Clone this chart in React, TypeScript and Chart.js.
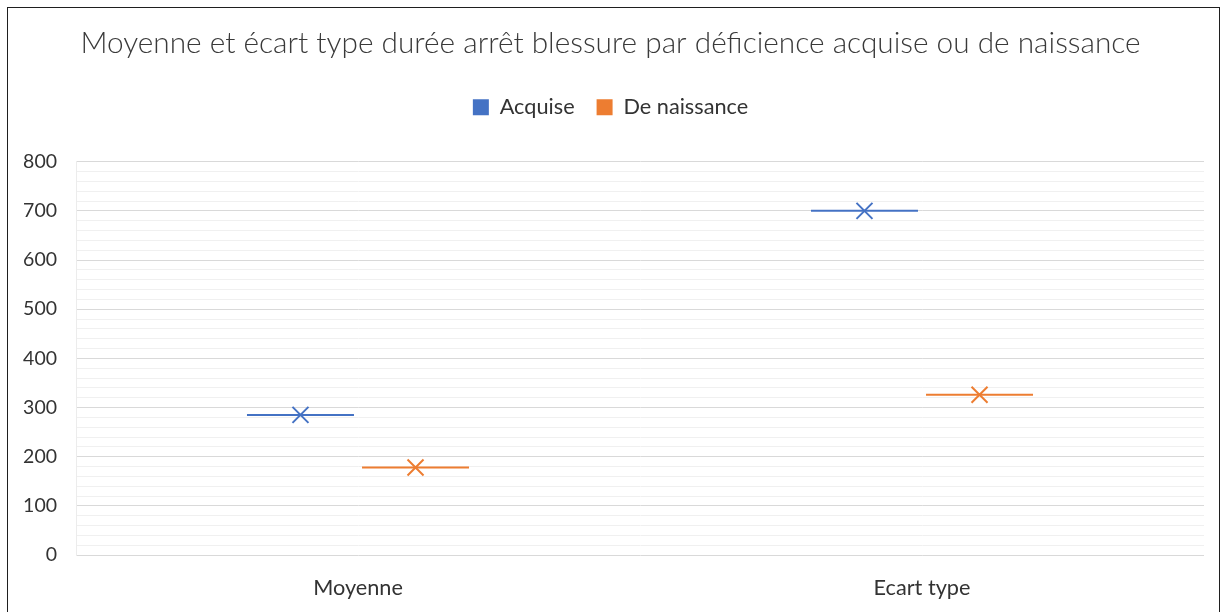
import React, { useEffect, useRef } from 'react';
import { Chart, registerables } from 'chart.js';

Chart.register(...registerables);

// ---- Data ----
const categories: string[] = ['Moyenne', 'Ecart type'];
const seriesNames: string[] = ['Acquise', 'De naissance'];
const acquiseValues: number[] = [285, 700];
const naissanceValues: number[] = [178, 326];
const seriesColors: string[] = ['#4472C4', '#ED7D31'];
const yMin = 0;
const yMax = 800;
const yMajorStep = 100;
const yMinorStep = 20;
const titleText = 'Moyenne et écart type durée arrêt blessure par déficience acquise ou de naissance';

const FONT = 'Lato, "Open Sans", sans-serif';

const markerPlugin = {
  id: 'meanMarkers',
  beforeDatasetDraw() {
    return false; // bars themselves are not drawn; markers below
  },
  afterDatasetsDraw(chart: any) {
    const ctx = chart.ctx;
    chart.data.datasets.forEach((ds: any, i: number) => {
      const meta = chart.getDatasetMeta(i);
      if (meta.hidden) return;
      meta.data.forEach((el: any) => {
        const { x, y, width } = el.getProps(['x', 'y', 'width'], true);
        ctx.save();
        ctx.strokeStyle = ds.borderColor;
        ctx.lineWidth = 2;
        ctx.beginPath();
        ctx.moveTo(x - width / 2, y);
        ctx.lineTo(x + width / 2, y);
        ctx.stroke();
        const r = 8;
        ctx.beginPath();
        ctx.moveTo(x - r, y - r);
        ctx.lineTo(x + r, y + r);
        ctx.moveTo(x - r, y + r);
        ctx.lineTo(x + r, y - r);
        ctx.stroke();
        ctx.restore();
      });
    });
  },
};

export default function App() {
  const canvasRef = useRef<HTMLCanvasElement | null>(null);

  useEffect(() => {
    if (!canvasRef.current) return;
    const chart = new Chart(canvasRef.current, {
      type: 'bar',
      data: {
        labels: categories,
        datasets: [
          {
            label: seriesNames[0],
            data: acquiseValues,
            backgroundColor: seriesColors[0],
            borderColor: seriesColors[0],
            borderWidth: 0,
            categoryPercentage: 0.408,
            barPercentage: 0.93,
          },
          {
            label: seriesNames[1],
            data: naissanceValues,
            backgroundColor: seriesColors[1],
            borderColor: seriesColors[1],
            borderWidth: 0,
            categoryPercentage: 0.408,
            barPercentage: 0.93,
          },
        ],
      },
      options: {
        responsive: false,
        animation: false,
        events: [],
        font: { family: FONT },
        layout: { padding: { left: 17, right: 17, top: 0, bottom: 0 } },
        plugins: {
          tooltip: { enabled: false },
          title: {
            display: true,
            text: titleText,
            color: '#3a3a3a',
            font: { family: FONT, size: 29.8, weight: '300', lineHeight: 1.2 },
            padding: { top: 25.1, bottom: 13.5 },
          },
          legend: {
            display: true,
            position: 'top',
            weight: 1000,
            labels: {
              color: '#333333',
              font: { family: FONT, size: 21.7 },
              boxWidth: 16,
              boxHeight: 16,
              padding: 22,
            },
          },
          subtitle: {
            display: true,
            text: ' ',
            weight: 500,
            font: { size: 1, lineHeight: 1 },
            padding: { top: 32.65, bottom: 0 },
          },
        },
        scales: {
          x: {
            grid: { display: false, drawTicks: false },
            border: { display: false },
            ticks: {
              color: '#333333',
              font: { family: FONT, size: 21.7 },
              padding: 20,
            },
            afterFit: (s: any) => {
              s.height = 57;
            },
          },
          y: {
            min: yMin,
            max: yMax,
            grid: {
              drawTicks: false,
              lineWidth: 1,
              color: (c: any) => (c.tick && c.tick.value % yMajorStep === 0 ? '#d9d9d9' : '#f0f0f0'),
            },
            border: { display: true, color: '#ececec' },
            ticks: {
              stepSize: yMinorStep,
              autoSkip: false,
              padding: 19,
              color: '#333333',
              font: { family: FONT, size: 19.5 },
              callback: (v: any) => (Number(v) % yMajorStep === 0 ? String(v) : ''),
            },
            afterFit: (s: any) => {
              s.width = 59;
            },
          },
        },
      },
      plugins: [markerPlugin],
    } as any);
    return () => chart.destroy();
  }, []);

  return (
    <div style={{ position: 'absolute', left: 0, top: 0, width: 1221, height: 612, overflow: 'hidden', background: '#fff' }}>
      <canvas ref={canvasRef} width={1221} height={612} style={{ position: 'absolute', left: 0, top: 0, width: 1221, height: 612 }} />
      <div
        style={{
          position: 'absolute',
          left: 7,
          top: 7,
          width: 1211,
          height: 620,
          border: '1px solid #1f1f1f',
          pointerEvents: 'none',
        }}
      />
    </div>
  );
}
